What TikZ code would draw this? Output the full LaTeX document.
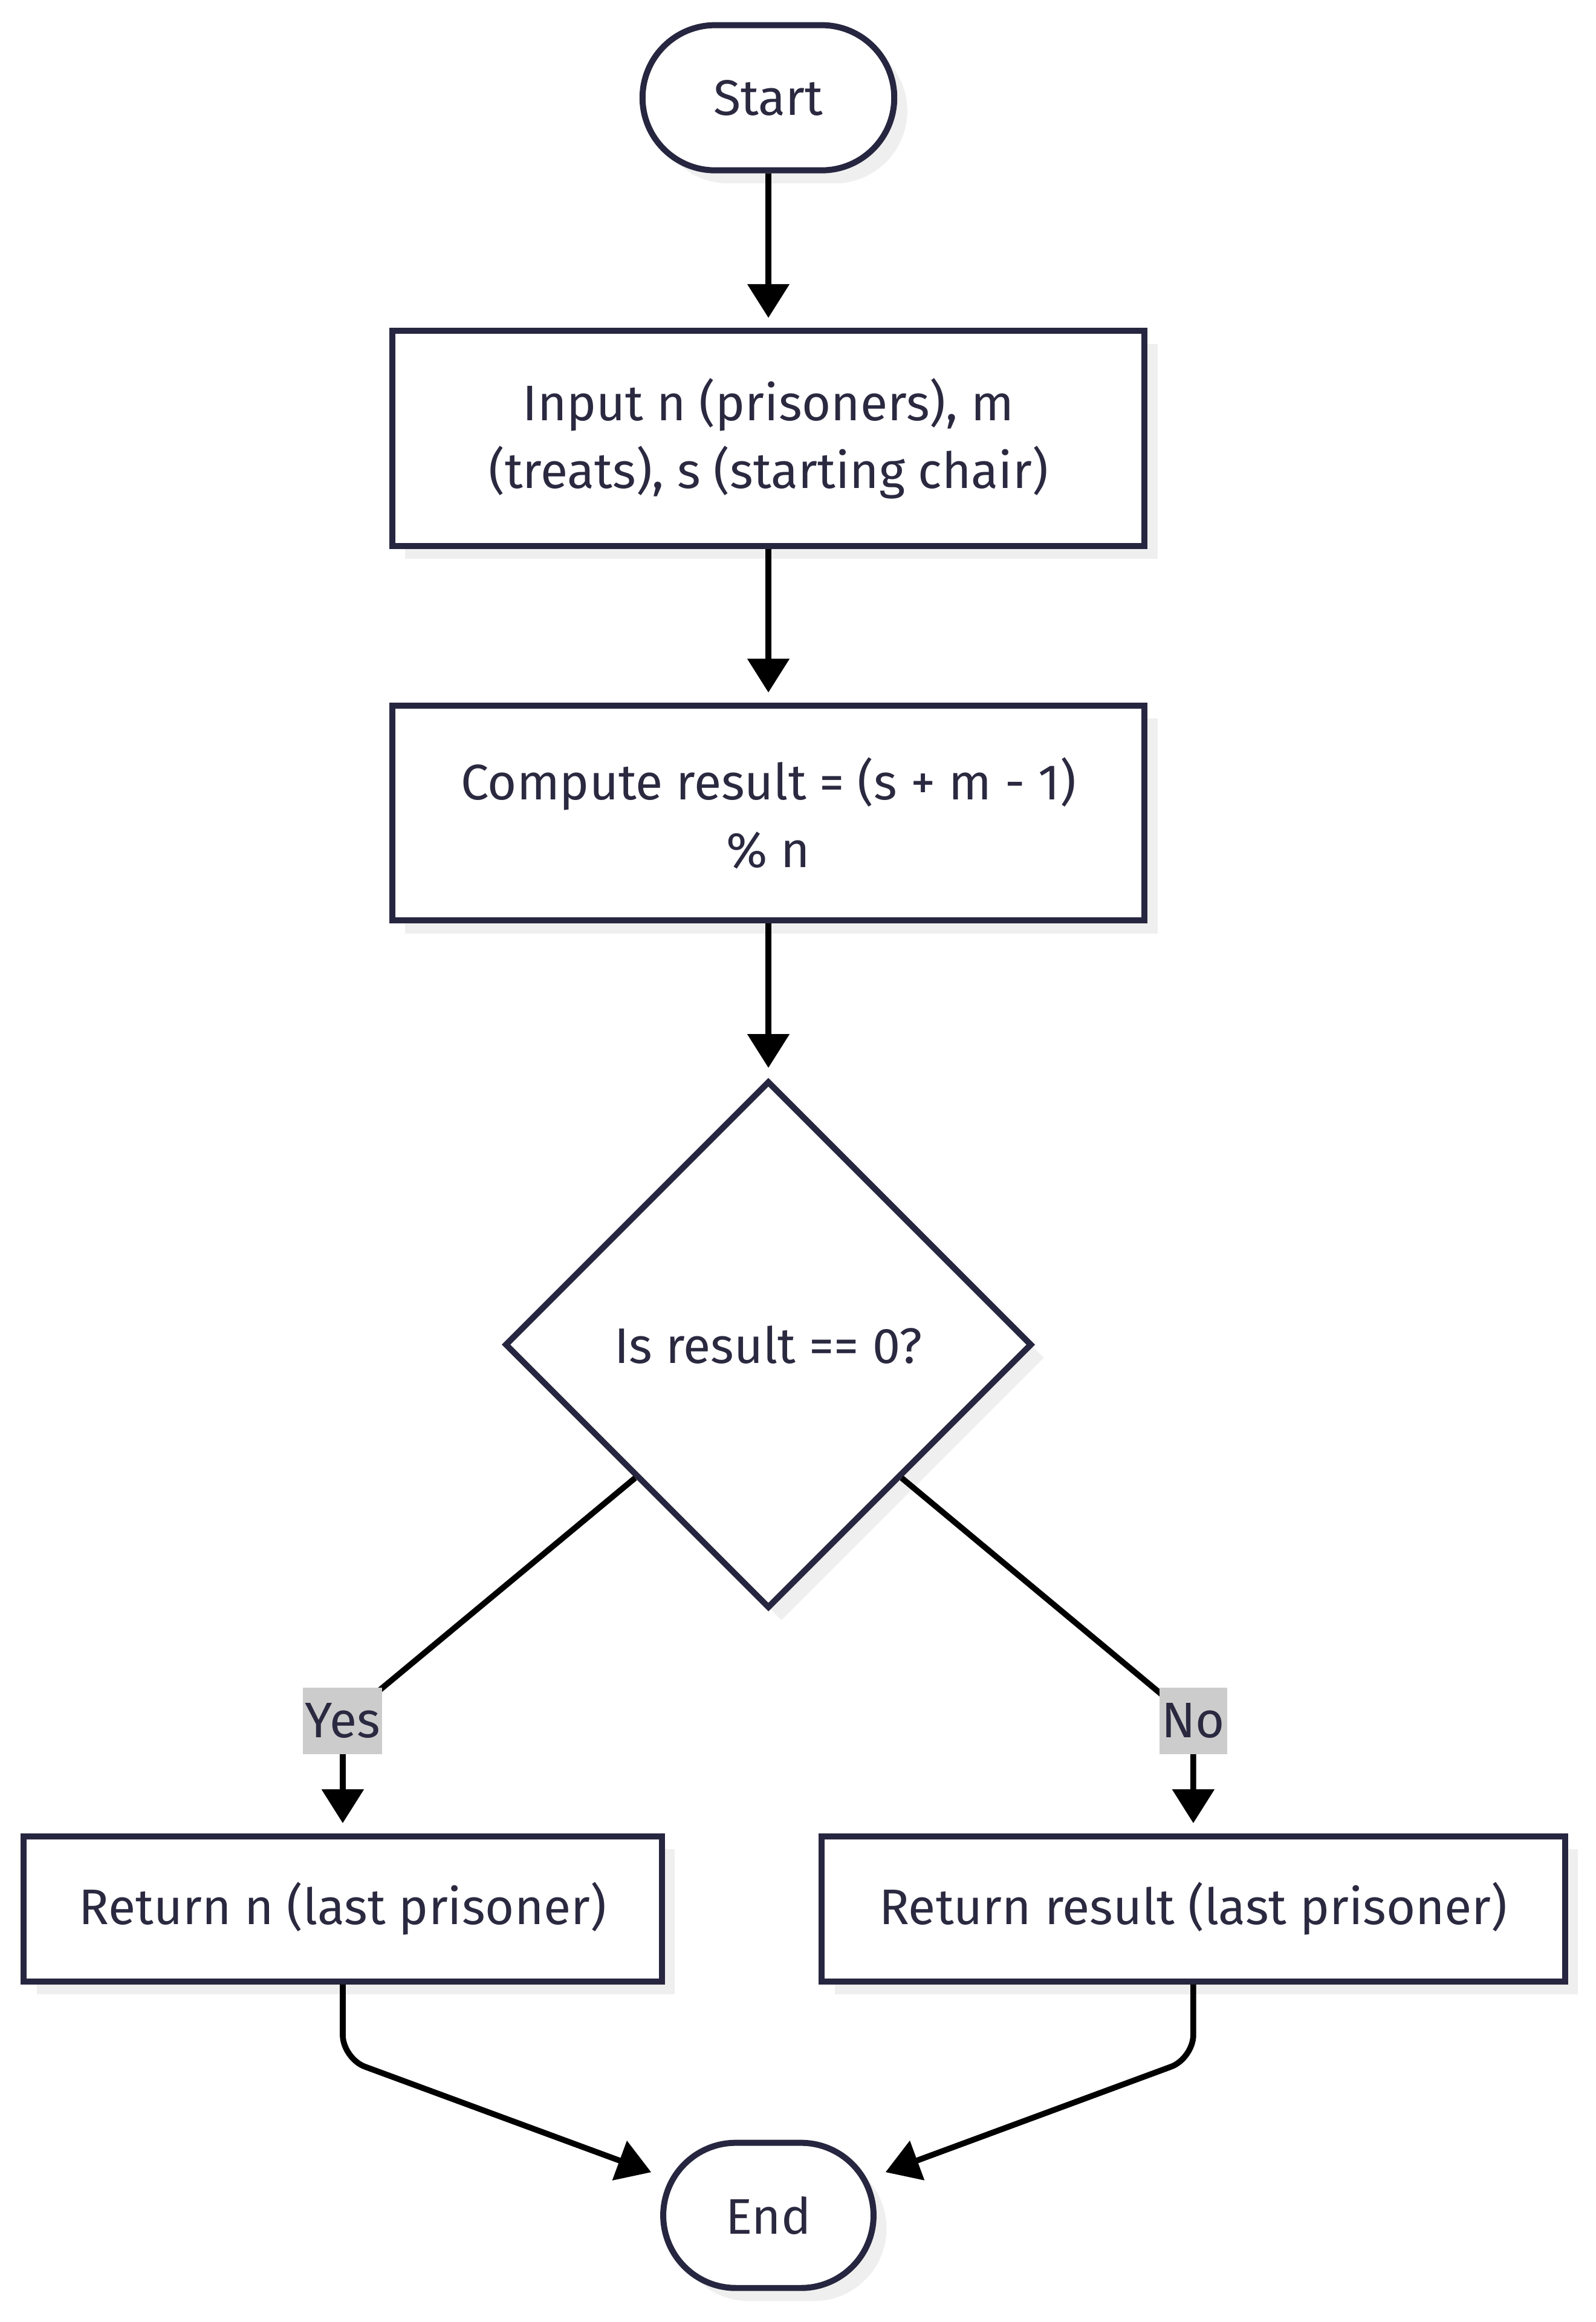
\documentclass[tikz,border=0pt]{standalone}
\usepackage{fontspec}
\setmainfont{Fira Sans}
\usetikzlibrary{arrows.meta,shapes.geometric,shapes.misc,shadows}

\definecolor{nodeline}{HTML}{272640}
\definecolor{txt}{HTML}{2A2940}
\definecolor{shade}{HTML}{EFEFEF}
\definecolor{lblbg}{HTML}{CCCCCC}

\tikzset{
  base/.style={draw=nodeline, line width=2.9pt, fill=white, text=txt, align=center, inner sep=0pt,
    drop shadow={shadow xshift=0.22cm, shadow yshift=-0.22cm, fill=shade, opacity=1}},
  term/.style={base, rounded rectangle, minimum height=2.45cm},
  proc/.style={base, rectangle, minimum width=12.7cm, minimum height=3.625cm},
  retbox/.style={base, rectangle, minimum height=2.45cm},
  decision/.style={base, diamond, aspect=1, minimum width=8.9cm, minimum height=8.9cm},
  arrow/.style={line width=2.8pt, -{Triangle[length=0.57cm, width=0.69cm]}, shorten >=0.17cm},
  lbl/.style={fill=lblbg, text=txt, inner xsep=1pt, inner ysep=0pt, minimum height=1.125cm}
}

\begin{document}
\begin{tikzpicture}[x=0.025cm, y=-0.025cm, font=\fontsize{24}{32.5}\selectfont]

\useasboundingbox (0,0) rectangle (1078,1568);

% nodes
\node[term, minimum width=4.25cm] (start) at (519,66) {Start};
\node[proc] (input) at (519,296) {Input n (prisoners), m\\(treats), s (starting chair)};
\node[proc] (comp) at (519,549) {Compute result = (s + m - 1)\\\% n};
\node[decision] (dec) at (519,908) {Is result == 0?};
\node[retbox, minimum width=10.775cm] (retn) at (231.5,1289) {Return n (last prisoner)};
\node[retbox, minimum width=12.55cm] (retr) at (806,1289) {Return result (last prisoner)};
\node[term, minimum width=3.55cm] (end) at (519,1496) {End};

\coordinate (yes) at (retn.north |- 0,1162);
\coordinate (no) at (retr.north |- 0,1162);

% connectors
\draw[arrow] (start) -- (input);
\draw[arrow] (input) -- (comp);
\draw[arrow] (comp) -- (dec);
\draw[arrow] (dec.south west) -- (yes) -- (retn.north);
\draw[arrow] (dec.south east) -- (no) -- (retr.north);
\draw[arrow, rounded corners=0.4cm, shorten >=0.33cm] (retn.south) -- ++(0,50) -- (end);
\draw[arrow, rounded corners=0.4cm, shorten >=0.33cm] (retr.south) -- ++(0,50) -- (end);

% labels
\node[lbl] (yeslbl) at (yes) {Yes};
\node[lbl] (nolbl) at (no) {No};

\end{tikzpicture}
\end{document}
